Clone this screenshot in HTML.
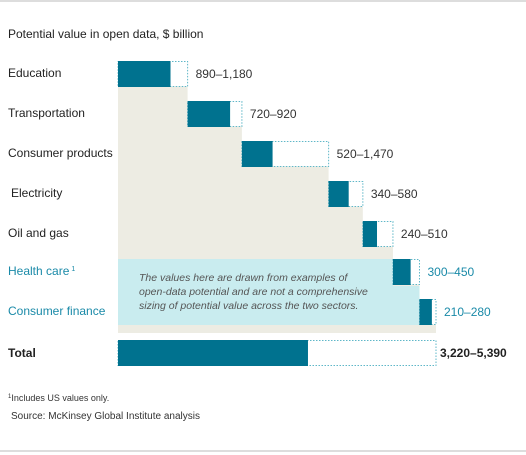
<!DOCTYPE html>
<html><head><meta charset="utf-8"><style>
body{margin:0;background:#fff;font-family:"Liberation Sans",Arial,sans-serif;}
#c{position:relative;width:526px;height:455px;overflow:hidden;}
</style></head><body>
<div id="c">
<svg id="s" width="526" height="455" xmlns="http://www.w3.org/2000/svg">
<line x1="0" y1="1" x2="526" y2="1" stroke="#bbb"/>
<line x1="0" y1="451" x2="526" y2="451" stroke="#bbb"/>
<text x="8" y="38" font-size="12" fill="#222">Potential value in open data, $ billion</text>
<g id="bg"></g><g id="bars"></g>
<text font-size="10.5" font-style="italic" fill="#555"><tspan x="139" y="281">The values here are drawn from examples of</tspan><tspan x="139" y="295">open-data potential and are not a comprehensive</tspan><tspan x="139" y="309">sizing of potential value across the two sectors.</tspan></text>
<text x="8" y="401" font-size="9" fill="#333"><tspan font-size="6" dy="-3">1</tspan><tspan dy="3">Includes US values only.</tspan></text>
<text x="11" y="419" font-size="10" fill="#333">Source: McKinsey Global Institute analysis</text>
</svg>
</div>
<script>
const categories=["Education","Transportation","Consumer products","Electricity","Oil and gas","Health care","Consumer finance"];
const lowValues=[890,720,520,340,240,300,210];
const highValues=[1180,920,1470,580,510,450,280];
const totalLow=3220, totalHigh=5390;
const x0=118, k=318/5390;
const X=v=>x0+v*k;
const rowTops=[61,101,141,181,221,259,299];
const NS="http://www.w3.org/2000/svg";
const bg=document.getElementById('bg'), bars=document.getElementById('bars');
function mk(p,tag,a){const e=document.createElementNS(NS,tag);for(const k in a)e.setAttribute(k,a[k]);p.appendChild(e);return e;}
let cum=0;const starts=[],ends=[];
categories.forEach((c,i)=>{starts.push(cum);cum+=highValues[i];ends.push(cum);});
categories.forEach((c,i)=>{
  const r=mk(bg,'rect',{x:x0,y:rowTops[i]+25,width:X(ends[i])-x0,height:333-(rowTops[i]+25),fill:'#edece3'});
  
  
});
const b1=mk(bg,'rect',{x:x0,y:259,width:X(starts[5])-x0,height:66,fill:'#c9ecef'});


const b2=mk(bg,'rect',{x:x0,y:286,width:X(starts[6])-x0,height:39,fill:'#c9ecef'});


categories.forEach((c,i)=>{
  const y=rowTops[i],h=25,blue=i>=5;
  const d=mk(bars,'rect',{x:X(starts[i]),y:y+0.5,width:X(highValues[i])-x0,height:h,fill:'#fff',stroke:'#5fb7c8','stroke-dasharray':'1.5,1.5'});
  
  
  const s=mk(bars,'rect',{x:X(starts[i]),y:y,width:X(lowValues[i])-x0,height:h+1,fill:'#00728f'});
  
  
  const l=mk(bars,'text',{x:i==3?11:8,y:y+16,'font-size':12,fill:blue?'#1a8aa8':'#222'});
  l.textContent=c;
  
  
  if(i==5){const t=mk(l,'tspan',{'font-size':7,dy:-4});t.textContent=' 1';}
  const v=mk(bars,'text',{x:X(ends[i])+8,y:y+17,'font-size':12,fill:blue?'#1a8aa8':'#333'});
  v.textContent=lowValues[i]+'–'+highValues[i].toLocaleString('en-US');
  
  
});
const td=mk(bars,'rect',{x:x0,y:340.5,width:X(totalHigh)-x0,height:25,fill:'#fff',stroke:'#5fb7c8','stroke-dasharray':'1.5,1.5'});


const ts=mk(bars,'rect',{x:x0,y:340,width:X(totalLow)-x0,height:26,fill:'#00728f'});


const tl=mk(bars,'text',{x:8,y:357,'font-size':12,'font-weight':'bold',fill:'#222'});
tl.textContent='Total';


const tv=mk(bars,'text',{x:X(totalHigh)+4,y:357,'font-size':12,'font-weight':'bold',fill:'#222'});
tv.textContent=totalLow.toLocaleString('en-US')+'–'+totalHigh.toLocaleString('en-US');


</script>
</body></html>
